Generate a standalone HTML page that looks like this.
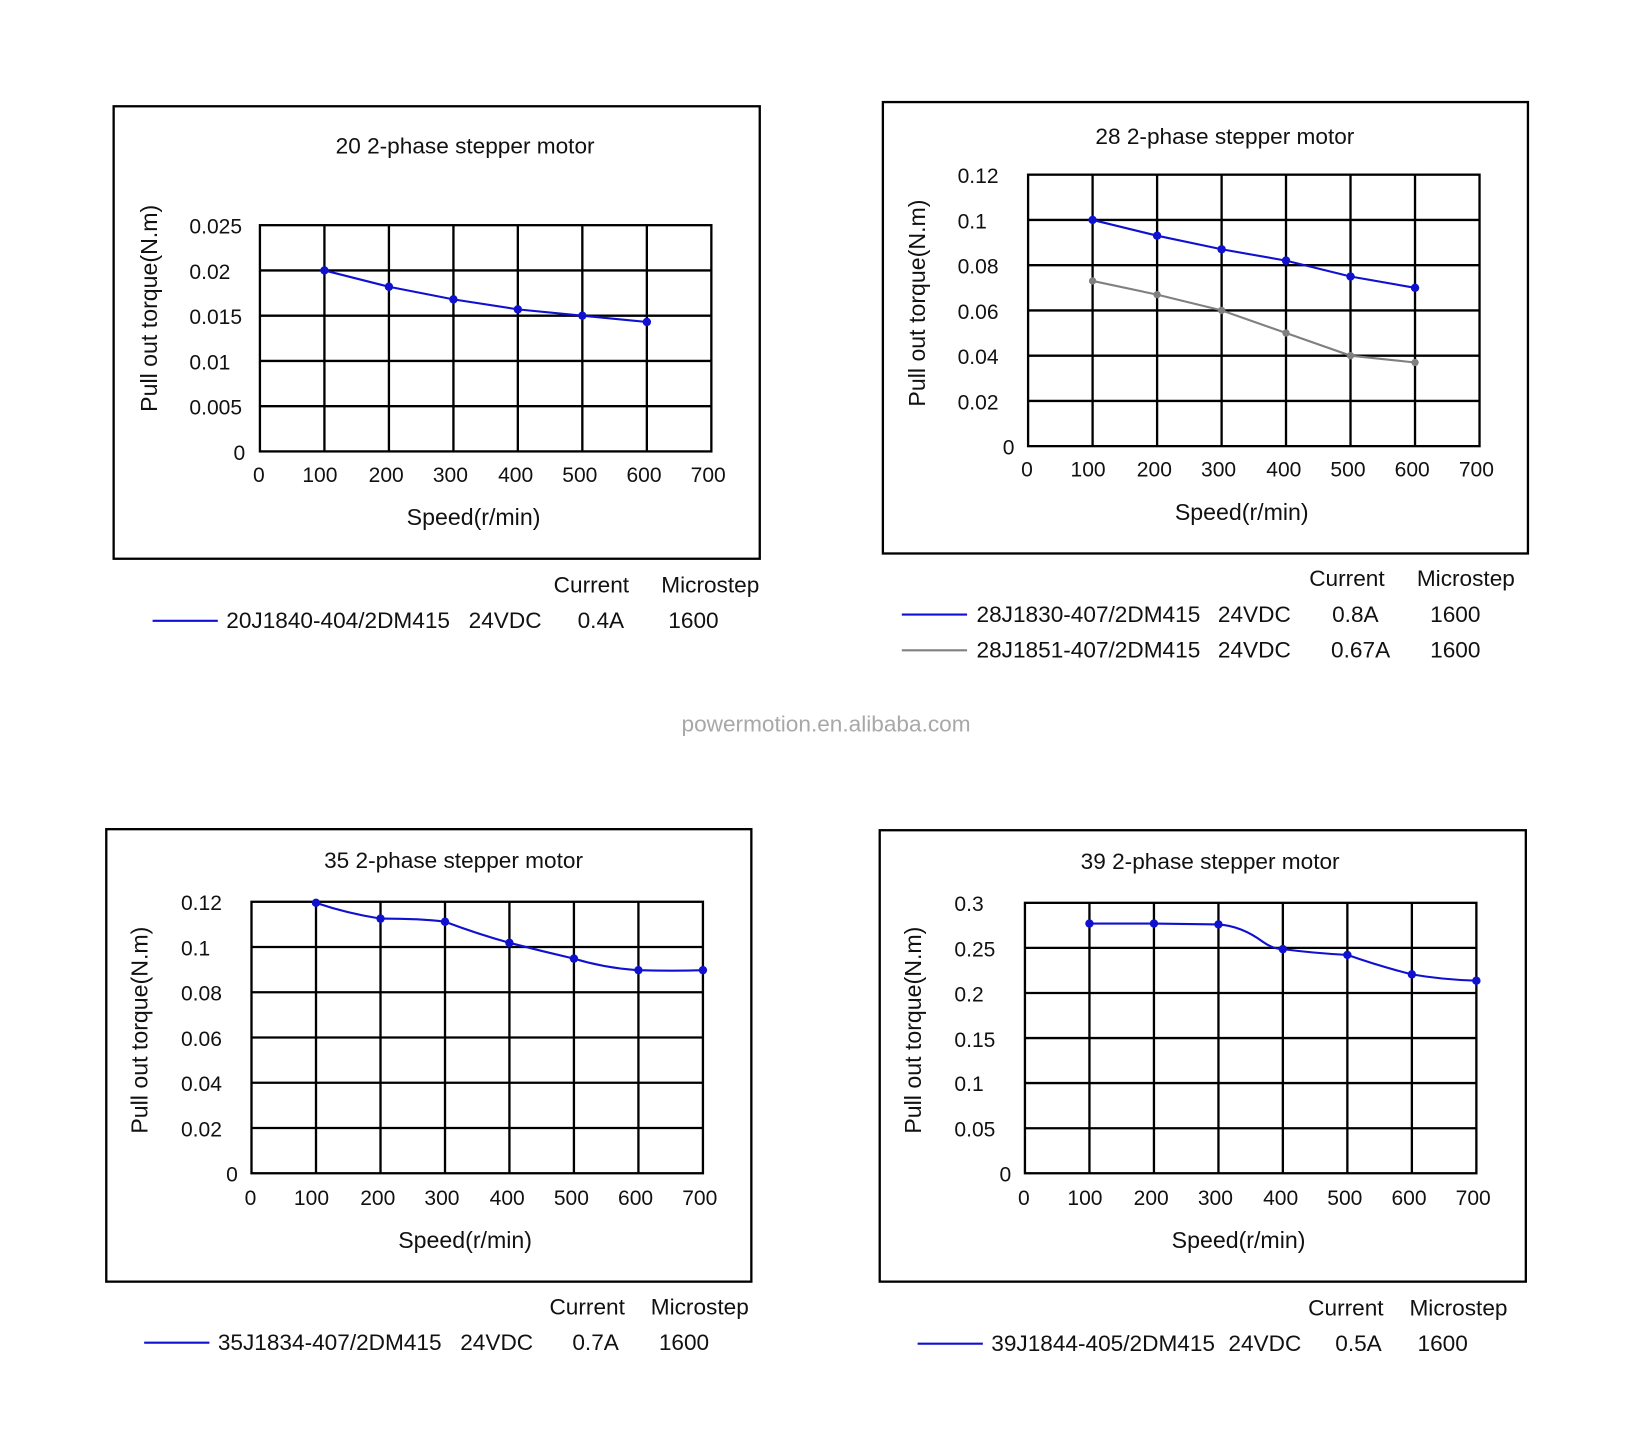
<!DOCTYPE html>
<html><head><meta charset="utf-8"><style>
html,body{margin:0;padding:0;background:#fff}
svg{display:block}
text{font-family:"Liberation Sans",Arial,sans-serif;fill:#111}
.t{font-size:21.5px}
.k{font-size:20px}
.a{font-size:22px}
.l{font-size:21.5px}
.g{stroke:#000;stroke-width:2.2;fill:none}
.b{stroke:#000;stroke-width:2.2;fill:none}
.s{stroke:#1010d0;stroke-width:2;fill:none}
.s2{stroke:#808080;stroke-width:2;fill:none}
</style></head><body>
<svg width="1650" height="1450" viewBox="0 0 1568 1378" preserveAspectRatio="none" xmlns="http://www.w3.org/2000/svg">
<!-- Chart 1 -->
<rect class="b" x="108" y="101" width="614" height="430"/>
<text class="t" x="442" y="146" text-anchor="middle">20 2-phase stepper motor</text>
<g class="g">
<rect x="247" y="214" width="429" height="215"/>
<path d="M308.3 214V429M369.6 214V429M430.9 214V429M492.1 214V429M553.4 214V429M614.7 214V429M247 257H676M247 300H676M247 343H676M247 386H676"/>
</g>
<g class="k">
<text x="180" y="222">0.025</text><text x="180" y="265">0.02</text><text x="180" y="308">0.015</text><text x="180" y="351">0.01</text><text x="180" y="394">0.005</text><text x="233" y="437" text-anchor="end">0</text>
</g>
<g class="k" text-anchor="middle">
<text x="246" y="458">0</text><text x="304" y="458">100</text><text x="367" y="458">200</text><text x="428" y="458">300</text><text x="490" y="458">400</text><text x="551" y="458">500</text><text x="612" y="458">600</text><text x="673" y="458">700</text>
</g>
<text class="a" x="450" y="499" text-anchor="middle">Speed(r/min)</text>
<text class="a" transform="translate(149,293) rotate(-90)" text-anchor="middle">Pull out torque(N.m)</text>
<polyline class="s" points="308.3,257 369.6,272.5 430.9,284.5 492.1,294 553.4,300 614.7,306"/>
<g fill="#1010d0"><circle cx="308.3" cy="257" r="4"/><circle cx="369.6" cy="272.5" r="4"/><circle cx="430.9" cy="284.5" r="4"/><circle cx="492.1" cy="294" r="4"/><circle cx="553.4" cy="300" r="4"/><circle cx="614.7" cy="306" r="4"/></g>
<g class="l">
<text x="562" y="563" text-anchor="middle">Current</text><text x="675" y="563" text-anchor="middle">Microstep</text>
<text x="215" y="597">20J1840-404/2DM415</text><text x="480" y="597" text-anchor="middle">24VDC</text><text x="571" y="597" text-anchor="middle">0.4A</text><text x="659" y="597" text-anchor="middle">1600</text>
</g>
<line class="s" x1="145" y1="590" x2="207" y2="590"/>

<!-- Chart 2 -->
<rect class="b" x="839" y="97" width="613" height="429"/>
<text class="t" x="1164" y="137" text-anchor="middle">28 2-phase stepper motor</text>
<g class="g">
<rect x="977" y="166" width="429" height="258"/>
<path d="M1038.3 166V424M1099.6 166V424M1160.9 166V424M1222.1 166V424M1283.4 166V424M1344.7 166V424M977 209H1406M977 252H1406M977 295H1406M977 338H1406M977 381H1406"/>
</g>
<g class="k">
<text x="910" y="174">0.12</text><text x="910" y="217">0.1</text><text x="910" y="260">0.08</text><text x="910" y="303">0.06</text><text x="910" y="346">0.04</text><text x="910" y="389">0.02</text><text x="964" y="432" text-anchor="end">0</text>
</g>
<g class="k" text-anchor="middle">
<text x="976" y="453">0</text><text x="1034" y="453">100</text><text x="1097" y="453">200</text><text x="1158" y="453">300</text><text x="1220" y="453">400</text><text x="1281" y="453">500</text><text x="1342" y="453">600</text><text x="1403" y="453">700</text>
</g>
<text class="a" x="1180" y="494" text-anchor="middle">Speed(r/min)</text>
<text class="a" transform="translate(879,288) rotate(-90)" text-anchor="middle">Pull out torque(N.m)</text>
<polyline class="s2" points="1038.3,267 1099.6,280 1160.9,295 1222.1,316.5 1283.4,338 1344.7,344.5"/>
<g fill="#808080"><circle cx="1038.3" cy="267" r="3.5"/><circle cx="1099.6" cy="280" r="3.5"/><circle cx="1160.9" cy="295" r="3.5"/><circle cx="1222.1" cy="316.5" r="3.5"/><circle cx="1283.4" cy="338" r="3.5"/><circle cx="1344.7" cy="344.5" r="3.5"/></g>
<polyline class="s" points="1038.3,209 1099.6,224 1160.9,236.9 1222.1,247.7 1283.4,262.8 1344.7,273.5"/>
<g fill="#1010d0"><circle cx="1038.3" cy="209" r="4"/><circle cx="1099.6" cy="224" r="4"/><circle cx="1160.9" cy="236.9" r="4"/><circle cx="1222.1" cy="247.7" r="4"/><circle cx="1283.4" cy="262.8" r="4"/><circle cx="1344.7" cy="273.5" r="4"/></g>
<g class="l">
<text x="1280" y="557" text-anchor="middle">Current</text><text x="1393" y="557" text-anchor="middle">Microstep</text>
<text x="928" y="591">28J1830-407/2DM415</text><text x="1192" y="591" text-anchor="middle">24VDC</text><text x="1288" y="591" text-anchor="middle">0.8A</text><text x="1383" y="591" text-anchor="middle">1600</text>
<text x="928" y="625">28J1851-407/2DM415</text><text x="1192" y="625" text-anchor="middle">24VDC</text><text x="1293" y="625" text-anchor="middle">0.67A</text><text x="1383" y="625" text-anchor="middle">1600</text>
</g>
<line class="s" x1="857" y1="584" x2="919" y2="584"/>
<line class="s2" x1="857" y1="618" x2="919" y2="618"/>

<text x="785" y="695" text-anchor="middle" style="font-size:21.5px;fill:#a8a8a8">powermotion.en.alibaba.com</text>

<!-- Chart 3 -->
<rect class="b" x="101" y="788" width="613" height="430"/>
<text class="t" x="431" y="825" text-anchor="middle">35 2-phase stepper motor</text>
<g class="g">
<rect x="239" y="857" width="429" height="258"/>
<path d="M300.3 857V1115M361.6 857V1115M422.9 857V1115M484.1 857V1115M545.4 857V1115M606.7 857V1115M239 900H668M239 943H668M239 986H668M239 1029H668M239 1072H668"/>
</g>
<g class="k">
<text x="172" y="865">0.12</text><text x="172" y="908">0.1</text><text x="172" y="951">0.08</text><text x="172" y="994">0.06</text><text x="172" y="1037">0.04</text><text x="172" y="1080">0.02</text><text x="226" y="1123" text-anchor="end">0</text>
</g>
<g class="k" text-anchor="middle">
<text x="238" y="1145">0</text><text x="296" y="1145">100</text><text x="359" y="1145">200</text><text x="420" y="1145">300</text><text x="482" y="1145">400</text><text x="543" y="1145">500</text><text x="604" y="1145">600</text><text x="665" y="1145">700</text>
</g>
<text class="a" x="442" y="1186" text-anchor="middle">Speed(r/min)</text>
<text class="a" transform="translate(140,979) rotate(-90)" text-anchor="middle">Pull out torque(N.m)</text>
<path class="s" d="M300.3 858 Q330 868 361.6 873 Q400 873 422.9 876 Q455 888 484.1 896 Q515 904 545.4 911 Q575 920 606.7 922 Q640 923 668 922"/>
<g fill="#1010d0"><circle cx="300.3" cy="858" r="4"/><circle cx="361.6" cy="873" r="4"/><circle cx="422.9" cy="876" r="4"/><circle cx="484.1" cy="896" r="4"/><circle cx="545.4" cy="911" r="4"/><circle cx="606.7" cy="922" r="4"/><circle cx="668" cy="922" r="4"/></g>
<g class="l">
<text x="558" y="1249" text-anchor="middle">Current</text><text x="665" y="1249" text-anchor="middle">Microstep</text>
<text x="207" y="1283">35J1834-407/2DM415</text><text x="472" y="1283" text-anchor="middle">24VDC</text><text x="566" y="1283" text-anchor="middle">0.7A</text><text x="650" y="1283" text-anchor="middle">1600</text>
</g>
<line class="s" x1="137" y1="1276" x2="199" y2="1276"/>

<!-- Chart 4 -->
<rect class="b" x="836" y="789" width="614" height="429"/>
<text class="t" x="1150" y="826" text-anchor="middle">39 2-phase stepper motor</text>
<g class="g">
<rect x="974" y="858" width="429" height="257"/>
<path d="M1035.3 858V1115M1096.6 858V1115M1157.9 858V1115M1219.1 858V1115M1280.4 858V1115M1341.7 858V1115M974 900.8H1403M974 943.7H1403M974 986.5H1403M974 1029.3H1403M974 1072.2H1403"/>
</g>
<g class="k">
<text x="907" y="866">0.3</text><text x="907" y="909">0.25</text><text x="907" y="952">0.2</text><text x="907" y="995">0.15</text><text x="907" y="1037">0.1</text><text x="907" y="1080">0.05</text><text x="961" y="1123" text-anchor="end">0</text>
</g>
<g class="k" text-anchor="middle">
<text x="973" y="1145">0</text><text x="1031" y="1145">100</text><text x="1094" y="1145">200</text><text x="1155" y="1145">300</text><text x="1217" y="1145">400</text><text x="1278" y="1145">500</text><text x="1339" y="1145">600</text><text x="1400" y="1145">700</text>
</g>
<text class="a" x="1177" y="1186" text-anchor="middle">Speed(r/min)</text>
<text class="a" transform="translate(875,979) rotate(-90)" text-anchor="middle">Pull out torque(N.m)</text>
<path class="s" d="M1035.3 877.7 L1096.6 877.7 L1157.9 878.5 Q1180 880 1200 895 Q1210 902 1219.1 902 Q1250 906 1280.4 907.5 Q1310 918 1341.7 926 Q1370 931 1403 932"/>
<g fill="#1010d0"><circle cx="1035.3" cy="877.7" r="4"/><circle cx="1096.6" cy="877.7" r="4"/><circle cx="1157.9" cy="878.5" r="4"/><circle cx="1219.1" cy="902" r="4"/><circle cx="1280.4" cy="907.5" r="4"/><circle cx="1341.7" cy="926" r="4"/><circle cx="1403" cy="932" r="4"/></g>
<g class="l">
<text x="1279" y="1250" text-anchor="middle">Current</text><text x="1386" y="1250" text-anchor="middle">Microstep</text>
<text x="942" y="1284">39J1844-405/2DM415</text><text x="1202" y="1284" text-anchor="middle">24VDC</text><text x="1291" y="1284" text-anchor="middle">0.5A</text><text x="1371" y="1284" text-anchor="middle">1600</text>
</g>
<line class="s" x1="872" y1="1277" x2="934" y2="1277"/>
</svg>
</body></html>
